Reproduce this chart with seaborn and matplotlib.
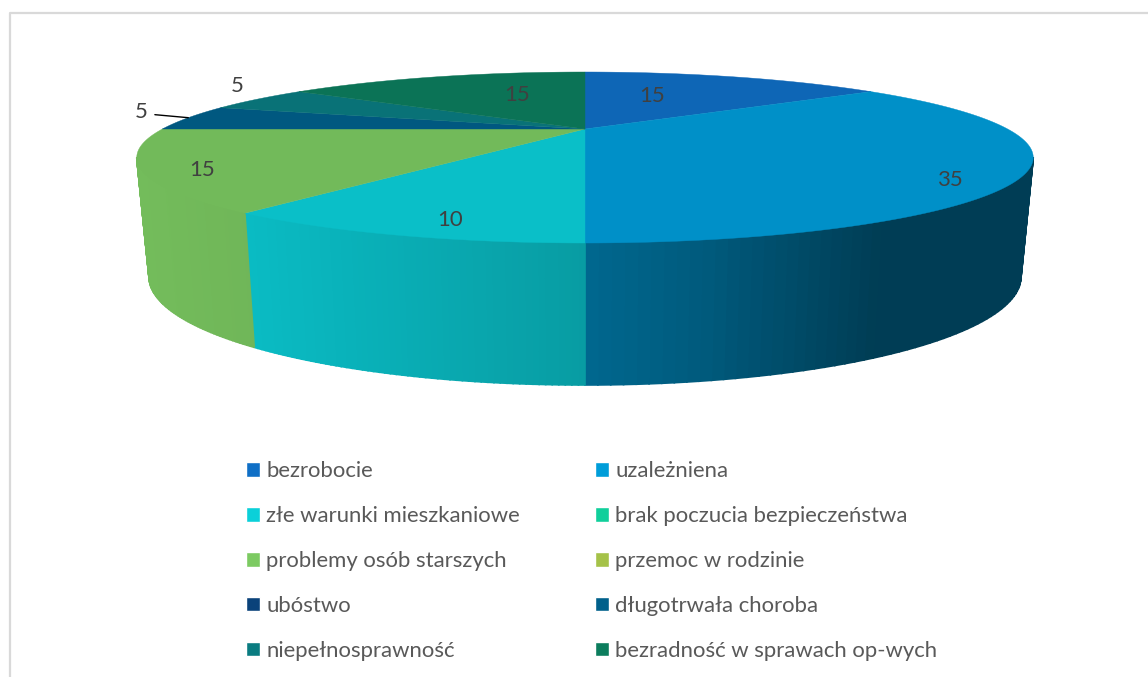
import numpy as np
import matplotlib
matplotlib.use('Agg')
import matplotlib.pyplot as plt
from matplotlib.patches import Patch
import seaborn as sns

categories = ["bezrobocie", "uzależniena", "złe warunki mieszkaniowe",
              "brak poczucia bezpieczeństwa", "problemy osób starszych",
              "przemoc w rodzinie", "ubóstwo", "długotrwała choroba",
              "niepełnosprawność", "bezradność w sprawach op-wych"]
values = [15, 35, 10, 0, 15, 0, 0, 5, 5, 15]
legend_colors = ["#0F6FC6", "#009DD9", "#0BD0D9", "#10CF9B", "#7CCA62",
                 "#A5C249", "#0A427A", "#00608B", "#0A7C81", "#0C7D5D"]

# where the value labels sit, only for slices that are not zero
label_x = [652, 950, 450, 202, 141, 237, 517]
label_y = [96, 180, 220, 170, 112, 86, 95]

# side wall brightness against x position, per slice
wall_shade = {
    1: ([585, 700, 880, 1030], [0.66, 0.58, 0.39, 0.39]),
    2: ([246, 585], [0.90, 0.75]),
    4: ([140, 255], [0.93, 0.90]),
}


def project(theta, a, b, cy, k=1 / 3, cx=585):
    # circle seen in perspective, theta clockwise from the back of the pie
    x = np.sin(theta)
    y = -np.cos(theta)
    f = 1 / (1 - k * y)
    return cx + a * x * f, cy + b * y * f


def top_rim(theta):
    return project(theta, 422.6, 76, 129)


def bottom_rim(theta):
    return project(theta, 411, 96, 241)


def main():
    sns.set_theme(style = "white")
    plt.rcParams['font.family'] = ['Lato', 'DejaVu Sans']
    palette = sns.color_palette(legend_colors)

    fig = plt.figure(figsize = (11.48, 6.77), dpi = 100)
    ax = fig.add_axes([0, 0, 1, 1])
    ax.set_xlim(0, 1148)
    ax.set_ylim(677, 0)
    ax.axis("off")

    # chart border
    ax.plot([10, 10, 1148], [677, 13, 13], color = "#d9d9d9", lw = 1.6, zorder = 0)

    edges = np.cumsum([0] + values) / sum(values) * 2 * np.pi
    vis_from, vis_to = np.radians(109.4), np.radians(250.6)

    # side wall first, cut in thin strips for the gradient
    for i, col in enumerate(palette):
        if i not in wall_shade:
            continue
        lo = max(edges[i], vis_from)
        hi = min(edges[i + 1], vis_to)
        th = np.linspace(lo, hi, 60)
        for t0, t1 in zip(th[:-1], th[1:]):
            xt, yt = top_rim(np.array([t0, t1]))
            xb, yb = bottom_rim(np.array([t1, t0]))
            s = np.interp(xt.mean(), *wall_shade[i])
            c = np.array(col) * s
            ax.fill(np.r_[xt, xb], np.r_[yt, yb], color = c, lw = 1.2, zorder = 2)

    # top surface
    xy = []
    for i, col in enumerate(palette):
        if values[i] == 0:
            continue
        th = np.linspace(edges[i], edges[i + 1], 200)
        xs, ys = top_rim(th)
        ax.fill(np.r_[585, xs], np.r_[129, ys], color = np.array(col) * 0.92, lw = 0.3, zorder = 3)
        xy.append(top_rim((edges[i] + edges[i + 1]) / 2))

    # value labels, the first small slice has a leader line
    shown = [v for v in values if v > 0]
    for j, v in enumerate(shown):
        if j == 4:
            ax.annotate(str(v), xy = xy[j], xytext = (label_x[j], label_y[j]),
                        ha = "center", va = "center", fontsize = 16, color = "#404040", zorder = 5,
                        arrowprops = dict(arrowstyle = "-", color = "black", lw = 1,
                                          relpos = (1, 0.4), shrinkA = 3, shrinkB = 0))
        else:
            ax.text(label_x[j], label_y[j], str(v), ha = "center", va = "center",
                    fontsize = 16, color = "#404040", zorder = 5)

    order = list(range(0, 10, 2)) + list(range(1, 10, 2))
    handles = [Patch(facecolor = palette[i], label = categories[i]) for i in order]
    ax.legend(handles = handles, ncol = 2, loc = "upper left",
              bbox_to_anchor = (246 / 1148, 1 - 461 / 677), borderaxespad = 0, borderpad = 0,
              frameon = False, fontsize = 15.9, labelcolor = "#595959",
              handlelength = 0.65, handleheight = 0.65, handletextpad = 0.27,
              labelspacing = 1.13, columnspacing = 3.38)

    fig.savefig("out.png", dpi = 100)
    plt.close(fig)


if __name__ == '__main__':
    main()
